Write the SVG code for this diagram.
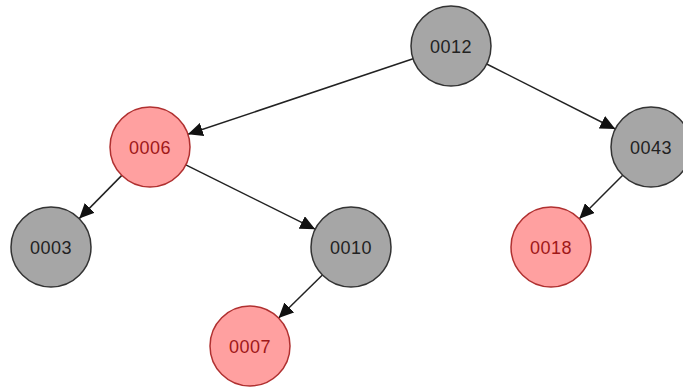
<svg xmlns="http://www.w3.org/2000/svg" width="683" height="389" viewBox="0 0 683 389">
<style>
.g{fill:#a6a6a6;stroke:#333;stroke-width:1.5}
.r{fill:#ffa0a0;stroke:#b03030;stroke-width:1.5}
.t{font-family:"Liberation Sans",Arial,sans-serif;font-size:18px;letter-spacing:0.5px;text-anchor:middle;dominant-baseline:central}
.tg{fill:#222}
.tr{fill:#a01818}
.e{stroke:#222;stroke-width:1.5;fill:none;marker-end:url(#ah)}
</style>
<defs>
<marker id="ah" markerUnits="userSpaceOnUse" markerWidth="16" markerHeight="14" refX="15" refY="7" orient="auto">
<path d="M0,0 L15,7 L0,14 Z" fill="#111"/>
</marker>
</defs>
<rect width="683" height="389" fill="#fff"/>
<g id="connectors">
<line class="e" x1="413.1" y1="58.7" x2="187.9" y2="134.3"/>
<line class="e" x1="486.7" y1="64" x2="615.3" y2="129"/>
<line class="e" x1="121.8" y1="175.4" x2="79.2" y2="218.6"/>
<line class="e" x1="185.8" y1="164.8" x2="315.2" y2="229.2"/>
<line class="e" x1="622.7" y1="175.3" x2="579.3" y2="218.7"/>
<line class="e" x1="322.4" y1="275" x2="278.6" y2="318"/>
</g>
<g id="n0012"><circle class="g" cx="451" cy="46" r="40"/><text class="t tg" x="451" y="47">0012</text></g>
<g id="n0006"><circle class="r" cx="150" cy="147" r="40"/><text class="t tr" x="150" y="148">0006</text></g>
<g id="n0043"><circle class="g" cx="651" cy="147" r="40"/><text class="t tg" x="651" y="148">0043</text></g>
<g id="n0003"><circle class="g" cx="51" cy="247" r="40"/><text class="t tg" x="51" y="248">0003</text></g>
<g id="n0010"><circle class="g" cx="351" cy="247" r="40"/><text class="t tg" x="351" y="248">0010</text></g>
<g id="n0018"><circle class="r" cx="551" cy="247" r="40"/><text class="t tr" x="551" y="248">0018</text></g>
<g id="n0007"><circle class="r" cx="250" cy="346" r="40"/><text class="t tr" x="250" y="347">0007</text></g>
</svg>
